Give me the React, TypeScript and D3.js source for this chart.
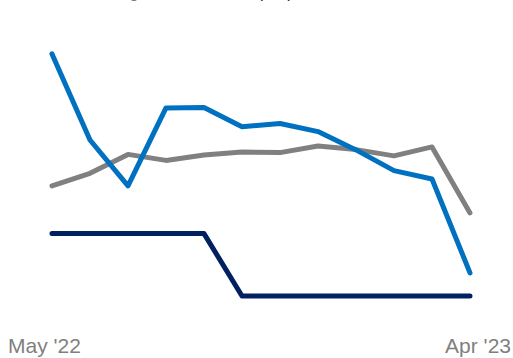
import React from "react";
import * as d3 from "d3";

const months = ["May '22", "Jun '22", "Jul '22", "Aug '22", "Sep '22", "Oct '22", "Nov '22", "Dec '22", "Jan '23", "Feb '23", "Mar '23", "Apr '23"];
const blueSeries = [8.87, 6.0, 4.47, 7.07, 7.08, 6.44, 6.55, 6.28, 5.67, 4.98, 4.7, 1.57];
const graySeries = [4.47, 4.89, 5.52, 5.32, 5.5, 5.6, 5.58, 5.8, 5.68, 5.47, 5.77, 3.57];
const navySeries = [2.88, 2.88, 2.88, 2.88, 2.88, 0.8, 0.8, 0.8, 0.8, 0.8, 0.8, 0.8];
const tickLabels = ["May '22", "Apr '23"];

const W = 513;
const H = 358;

export default function App() {
  const x = d3.scalePoint<string>().domain(months).range([52, 470]);
  const y = d3.scaleLinear().domain([0, 10]).range([320, 20]);
  const line = d3
    .line<number>()
    .x((_, i) => x(months[i]) as number)
    .y((d) => y(d));

  const series = [
    { values: navySeries, color: "#002060" },
    { values: graySeries, color: "#808080" },
    { values: blueSeries, color: "#0070C0" },
  ];

  return (
    <div style={{ position: "fixed", left: 0, top: 0, width: W, height: H, background: "#fff" }}>
      <svg width={W} height={H} style={{ display: "block", overflow: "hidden" }}>
        <g fontFamily="'Liberation Sans', Arial, sans-serif" fontSize={16}>
          <text x={138.5} y={-2} textAnchor="end" fill="#808080">Housing</text>
          <text x={246.6} y={-2} fill="#002060">Input prices</text>
        </g>
        {series.map((s, i) => (
          <path
            key={i}
            d={line(s.values) as string}
            fill="none"
            stroke={s.color}
            strokeWidth={5}
            strokeLinecap="round"
            strokeLinejoin="round"
          />
        ))}
        <g fontFamily="'Liberation Sans', Arial, sans-serif" fontSize={21} fill="#7f7f7f">
          <text x={8} y={353}>{tickLabels[0]}</text>
          <text x={511} y={353} textAnchor="end">{tickLabels[1]}</text>
        </g>
      </svg>
    </div>
  );
}
